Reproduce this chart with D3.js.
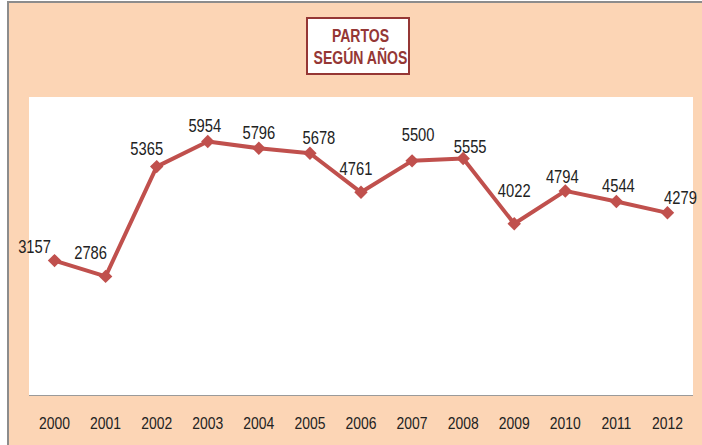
<!DOCTYPE html>
<html>
<head>
<meta charset="utf-8">
<script src="https://cdn.jsdelivr.net/npm/d3@7"></script>
<style>
  body { margin:0; padding:0; background:#fff; }
  svg { display:block; }
  text { font-family: "Liberation Sans", Arial, sans-serif; }
</style>
</head>
<body>
<svg id="svg"></svg>
<script>
// data
let years = ['2000','2001','2002','2003','2004','2005','2006','2007','2008','2009','2010','2011','2012']
let partos = [3157,2786,5365,5954,5796,5678,4761,5500,5555,4022,4794,4544,4279]
let titleLines = ['PARTOS','SEGÚN AÑOS']

// label nudges (Excel had them hand placed)
let labelDx = [-20,-15,-10,-3,0,9,-5,6,7,0,-3,2,13]
let labelDy = [-14,-24,-18,-16,-16,-16,-24,-26,-12,-33,-14,-16,-15]

let width = 702
let height = 445
let plot = {left:29, right:693, top:97, bottom:395}
let squeeze = 0.82

let svg = d3.select('#svg').attr('width',width).attr('height',height)

// background + frame
svg.append('rect').attr('x',0).attr('y',0).attr('width',width).attr('height',height).attr('fill','#fff')
svg.append('rect').attr('x',8).attr('y',2).attr('width',width).attr('height',height)
   .attr('fill','#FCD5B5').attr('stroke','#8c8c8c').attr('stroke-width',2)

// plot area
svg.append('rect').attr('x',plot.left).attr('y',plot.top)
   .attr('width',plot.right-plot.left).attr('height',plot.bottom-plot.top).attr('fill','#fff')
svg.append('line').attr('x1',plot.left).attr('x2',plot.right).attr('y1',plot.bottom+0.5).attr('y2',plot.bottom+0.5)
   .attr('stroke','#9a9a9a').attr('stroke-width',1)

// scales
let xScale = d3.scaleBand().domain(years).range([plot.left,plot.right])
let yScale = d3.scaleLinear().domain([0,7000]).range([plot.bottom,plot.top])
let cx = d => xScale(d) + xScale.bandwidth()/2

// x axis labels (squeezed like Calibri)
let xAxis = d3.axisBottom(xScale).tickSize(0).tickPadding(0).tickFormat('')
let xGroup = svg.append('g').attr('transform',`translate(0,${plot.bottom})`).call(xAxis)
xGroup.select('.domain').remove()
xGroup.selectAll('.tick').append('text')
   .attr('transform',`translate(0,34) scale(${squeeze},1)`)
   .attr('text-anchor','middle').attr('font-size',17).attr('fill','#222')
   .text(d => d)

// line
let line = d3.line().x((d,i) => cx(years[i])).y(d => yScale(d))
svg.append('path').datum(partos).attr('d',line).attr('fill','none')
   .attr('stroke','#C0504D').attr('stroke-width',4).attr('stroke-linejoin','round')

// markers
svg.append('g').selectAll('path').data(partos).enter().append('path')
   .attr('d',d3.symbol().type(d3.symbolDiamond2).size(115))
   .attr('transform',(d,i) => `translate(${cx(years[i])},${yScale(d)})`)
   .attr('fill','#C0504D')

// value labels
svg.append('g').selectAll('text').data(partos).enter().append('text')
   .attr('transform',(d,i) => `translate(${cx(years[i]) + labelDx[i]},${yScale(d) + labelDy[i] + 6.5}) scale(${squeeze},1)`)
   .attr('text-anchor','middle').attr('font-size',18).attr('fill','#222')
   .text(d => d)

// title box
svg.append('rect').attr('x',307).attr('y',18).attr('width',102).attr('height',56)
   .attr('fill','#fff').attr('stroke','#953735').attr('stroke-width',2)
svg.append('g').selectAll('text').data(titleLines).enter().append('text')
   .attr('transform',(d,i) => `translate(360.5,${42 + i*22}) scale(0.78,1)`)
   .attr('text-anchor','middle').attr('font-size',18).attr('font-weight','bold').attr('fill','#953735')
   .text(d => d)
</script>
</body>
</html>
